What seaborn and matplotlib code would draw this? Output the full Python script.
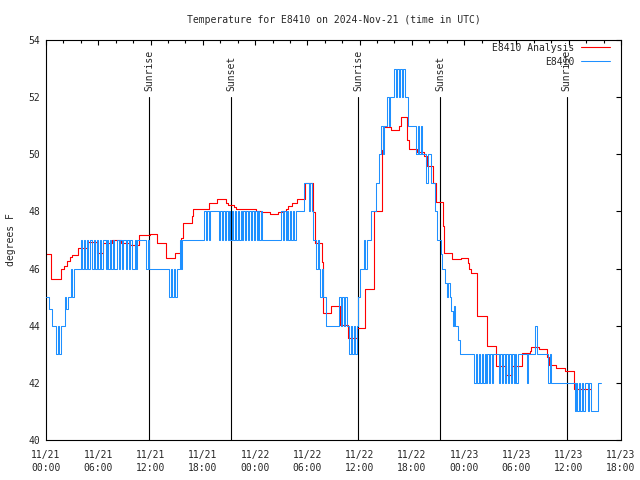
import matplotlib
matplotlib.use("Agg")
import matplotlib.pyplot as plt
import matplotlib.dates as mdates
import pandas as pd
import seaborn as sns

START = pd.Timestamp("2024-11-21 00:00")

# E8410 Analysis: step start (hours after 11/21 00:00 UTC) and temperature (F)
analysis_hours = [0.0, 0.57, 1.72, 2.06, 2.41, 2.75, 2.98, 3.67, 4.81, 5.84,
                  6.53, 7.56, 8.59, 9.63, 10.66, 11.92, 12.72, 13.75, 14.78, 15.47,
                  15.70, 16.73, 16.84, 17.65, 18.22, 18.68, 19.59, 20.63, 20.85, 21.54,
                  21.77, 22.69, 23.60, 24.06, 24.64, 25.67, 26.58, 27.04, 27.50, 27.73,
                  28.19, 28.76, 29.68, 30.59, 30.82, 31.63, 31.74, 32.66, 33.69, 34.72,
                  35.64, 36.67, 37.70, 38.62, 38.73, 39.65, 40.56, 40.79, 41.48, 41.71,
                  42.63, 43.43, 43.74, 44.38, 44.77, 45.53, 45.72, 46.64, 47.67, 48.47,
                  48.58, 48.81, 49.50, 50.65, 51.68, 52.83, 53.51, 54.66, 55.57, 55.69,
                  56.61, 57.52, 57.75, 58.55, 59.58, 60.61, 62.56]
analysis_temps = [46.5, 45.62, 45.97, 46.1, 46.25, 46.4, 46.47, 46.71, 46.94, 46.56,
                  46.88, 47.0, 46.88, 46.83, 47.17, 47.21, 46.88, 46.36, 46.56, 47.06,
                  47.58, 47.84, 48.1, 48.07, 48.1, 48.3, 48.42, 48.3, 48.24, 48.15,
                  48.07, 48.1, 48.07, 48.03, 47.97, 47.91, 47.97, 48.0, 48.1, 48.2,
                  48.3, 48.42, 49.0, 47.97, 46.9, 46.24, 44.43, 44.7, 44.03, 43.56,
                  43.91, 45.29, 48.0, 50.15, 50.97, 50.85, 51.0, 51.3, 50.5, 50.17,
                  50.09, 49.93, 49.59, 48.98, 48.34, 47.5, 46.53, 46.33, 46.38, 46.2,
                  46.0, 45.83, 44.35, 43.29, 42.6, 42.27, 42.6, 43.03, 43.1, 43.24,
                  43.19, 42.9, 42.63, 42.53, 42.43, 41.78, 41.8]

# E8410 observations, 10-minute readings, one row per hour from 11/21 00:00 UTC
obs_rows = [
    "45 45 44.6 44.6 44 44", "44 43 44 43 44 44", "44 45 44.6 45 45 46", "45 46 46 46 46 46",
    "47 46 47 46 47 46", "47 47 46 47 46 47", "46 47 46 47 47 46", "47 46 47 46 47 46",
    "46 47 46 47 46 47", "47 46 47 46 47 46", "46 47 46 47 47 47", "47 47 47 46 47 46",
    "46 46 46 46 46 46", "46 46 46 46 46 46", "46 45 46 45 46 45", "46 46 47 46 47 47",
    "47 47 47 47 47 47", "47 47 47 47 47 47", "47 48 47 48 47 48", "48 48 48 48 48 47",
    "48 47 48 47 48 47", "48 47 48 47 48 47", "48 47 48 47 48 47", "48 47 48 47 48 47",
    "48 47 48 47 48 47", "47 47 47 47 47 47", "47 47 47 47 47 47", "48 47 48 47 48 47",
    "48 47 48 47 48 48", "48 48 48 48 49 49", "49 48 49 48 47 47", "46 47 46 45 46 45",
    "45 44 44 44 44 44", "44 44 44 44 45 44", "45 44 45 44 44 43", "44 43 44 43 44 45",
    "46 46 46 47 46 47", "47 47 48 48 48 49", "49 50 50 51 50 51", "51 52 51 52 52 52",
    "53 52 53 52 53 52", "53 52 52 51 51 51", "51 51 51 50 51 50", "51 50 50 50 49 50",
    "50 49 49 49 48 47", "47 47 46.5 46 46 45.5", "45 45.5 45 44.5 44 44.7", "44 44 43.5 43 43 43",
    "43 43 43 43 43 43", "43 42 43 42 43 42", "43 42 43 42 43 42", "43 42 43 43 43 43",
    "42 43 42 43 42 43", "42 43 42 43 42 43", "42 43 43 43 43 43", "43 42 43 43 43 43",
    "43 44 43 43 43 43", "43 43 43 43 42 43", "42 42 42 42 42 42", "42 42 42 42 42 42",
    "42 42 42 42 41 42", "41 42 41 42 41 42", "42 41 42 41 41 41", "41 41 42 42 42",
]

sun_labels = ["Sunrise", "Sunset", "Sunrise", "Sunset", "Sunrise"]
sun_times = ["2024-11-21 11:50", "2024-11-21 21:14", "2024-11-22 11:50",
             "2024-11-22 21:13", "2024-11-23 11:45"]

analysis = pd.DataFrame({
    "time": START + pd.to_timedelta(analysis_hours, unit="h"),
    "temp": analysis_temps,
})
obs_time, obs_temp = [], []
for hour, row in enumerate(obs_rows):
    for k, val in enumerate(row.split()):
        obs_time.append(START + pd.Timedelta(minutes=60 * hour + 10 * k))
        obs_temp.append(float(val))
obs = pd.DataFrame({"time": obs_time, "temp": obs_temp})

sns.set_style("white")
plt.rcParams["font.family"] = ["DejaVu Sans Mono"]
plt.rcParams["font.size"] = 7

fig = plt.figure(figsize=(6.4, 4.8), dpi=100)
ax = fig.add_axes([46 / 640, 40 / 480, 575 / 640, 400 / 480])

for label, t in zip(sun_labels, sun_times):
    t = pd.Timestamp(t)
    ax.plot([t, t], [40, 52], color="black", lw=0.8, zorder=1)
    ax.text(t, 52.2, label, rotation=90, ha="center", va="bottom", fontsize=7)

sns.lineplot(data=analysis, x="time", y="temp", ax=ax, color="#ff0000", lw=0.8,
             drawstyle="steps-post", estimator=None, label="E8410 Analysis", zorder=2)
sns.lineplot(data=obs, x="time", y="temp", ax=ax, color="#1e90ff", lw=0.75,
             drawstyle="steps-post", estimator=None, label="E8410", zorder=3)

ax.set_xlim(START, START + pd.Timedelta(hours=66))
ax.set_ylim(40, 54)
ax.set_yticks(range(40, 55, 2))
ax.xaxis.set_major_locator(mdates.HourLocator(byhour=[0, 6, 12, 18]))
ax.xaxis.set_minor_locator(mdates.HourLocator(interval=2))
ax.xaxis.set_major_formatter(mdates.DateFormatter("%m/%d\n%H:%M"))

ax.tick_params(which="both", direction="in", top=True, right=True, color="black",
               width=0.8, labelsize=7)
ax.tick_params(which="major", length=3.6)
ax.tick_params(which="minor", length=1.8)
ax.tick_params(axis="x", pad=7)
ax.tick_params(axis="y", pad=4)
for lbl in ax.get_xticklabels():
    lbl.set_linespacing(1.45)
for s in ax.spines.values():
    s.set_color("black")
    s.set_linewidth(0.8)

ax.set_xlabel("")
ax.set_ylabel("degrees F", fontsize=7)
ax.yaxis.set_label_coords(-0.053, 0.5)
ax.set_title("Temperature for E8410 on 2024-Nov-21 (time in UTC)", fontsize=7, pad=12)

ax.legend(loc="upper right", bbox_to_anchor=(0.981, 0.993), borderaxespad=0,
          frameon=False, markerfirst=False, handlelength=3.0, handletextpad=0.7,
          labelspacing=0.4, fontsize=7, borderpad=0)

fig.savefig("out.png", dpi=100)
